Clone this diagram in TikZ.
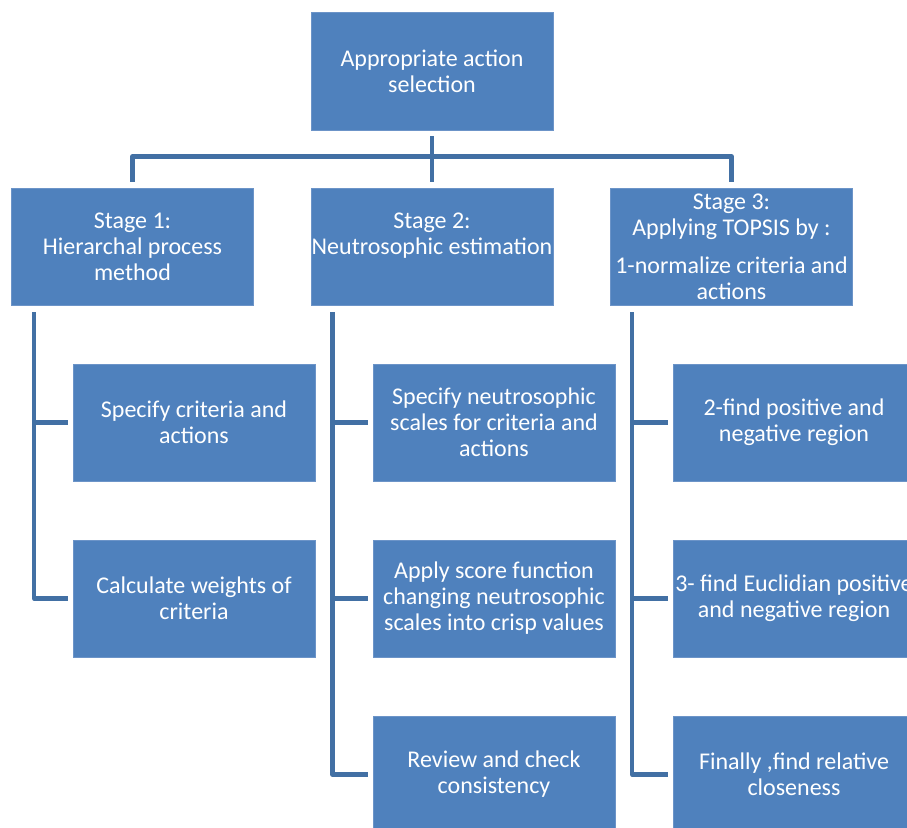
\documentclass[tikz,border=0pt]{standalone}
\usepackage{fontspec}
\setmainfont{Carlito}
\definecolor{boxfill}{RGB}{79,129,189}
\definecolor{boxedge}{RGB}{108,148,200}
\definecolor{linkcol}{RGB}{66,112,164}
\begin{document}
\begin{tikzpicture}[x=1pt,y=-1pt,
  blk/.style={rectangle, fill=boxfill, draw=boxedge, line width=0.8pt,
    minimum width=242pt, minimum height=117pt, inner sep=0pt,
    text=white, align=center, font=\fontsize{24}{26}\selectfont},
  conn/.style={draw=linkcol, line width=4.5pt, line join=round}]
\useasboundingbox (0,0) rectangle (907,827);

% root
\node[blk, minimum height=118pt] (top) at (432,71) {Appropriate action\\selection};

% stages
\node[blk] (s1) at (132.5,246.5) {Stage 1:\\Hierarchal process\\method};
\node[blk] (s2) at (432,246.5) {Stage 2:\\Neutrosophic estimation\\\mbox{}};
\node[blk] (s3) at (731.5,246.5) {Stage 3:\\Applying TOPSIS by :\\[12pt]1-normalize criteria and\\actions};

% stage 1 steps
\node[blk] (c11) at (194,422.5) {Specify criteria and\\actions};
\node[blk] (c12) at (194,598.5) {Calculate weights of\\criteria};

% stage 2 steps
\node[blk] (c21) at (494,422.5) {Specify neutrosophic\\scales for criteria and\\actions};
\node[blk] (c22) at (494,598.5) {Apply score function\\changing neutrosophic\\scales into crisp values};
\node[blk] (c23) at (494,774.5) {Review and check\\consistency};

% stage 3 steps
\node[blk] (c31) at (794,422.5) {2-find positive and\\negative region};
\node[blk] (c32) at (794,598.5) {3- find Euclidian positive\\and negative region};
\node[blk] (c33) at (794,774.5) {Finally ,find relative\\closeness};

% root to stages
\draw[conn] ([yshift=-6pt]top.south) -- ([yshift=6pt]s2.north);
\draw[conn] ([yshift=6pt]s1.north) -- ([yshift=31pt]s1.north) -| ([yshift=6pt]s3.north);

% stage 1 branch
\coordinate (v1) at ([shift={(23pt,-7pt)}]s1.south west);
\draw[conn] (v1) |- ([xshift=-5pt]c12.west);
\draw[conn] (v1 |- c11.west) -- ([xshift=-5pt]c11.west);

% stage 2 branch
\coordinate (v2) at ([shift={(22pt,-7pt)}]s2.south west);
\draw[conn] (v2) |- ([xshift=-5pt]c23.west);
\draw[conn] (v2 |- c21.west) -- ([xshift=-5pt]c21.west);
\draw[conn] (v2 |- c22.west) -- ([xshift=-5pt]c22.west);

% stage 3 branch
\coordinate (v3) at ([shift={(22pt,-7pt)}]s3.south west);
\draw[conn] (v3) |- ([xshift=-5pt]c33.west);
\draw[conn] (v3 |- c31.west) -- ([xshift=-5pt]c31.west);
\draw[conn] (v3 |- c32.west) -- ([xshift=-5pt]c32.west);
\end{tikzpicture}
\end{document}
